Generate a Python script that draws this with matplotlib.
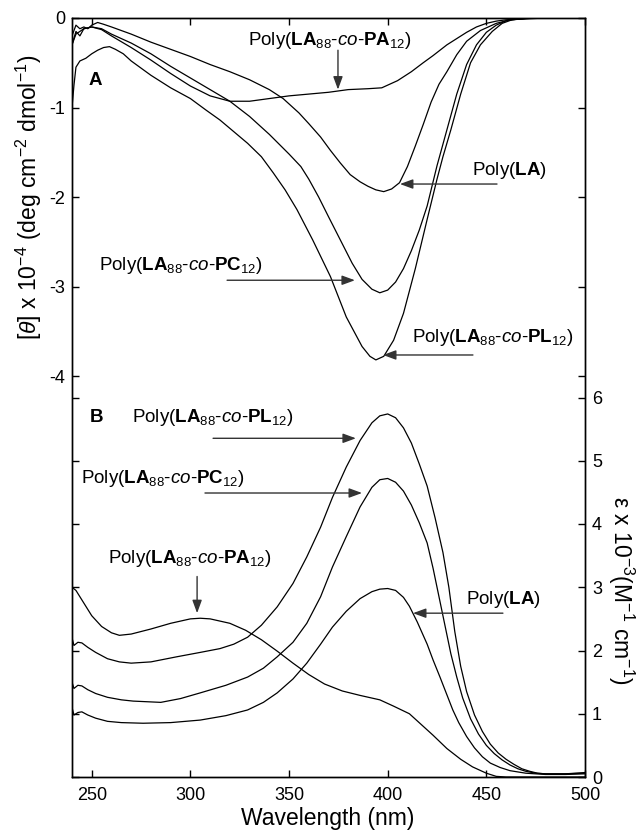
import matplotlib
matplotlib.use("Agg")
import matplotlib.pyplot as plt

plt.rcParams['font.family'] = ['Liberation Sans', 'DejaVu Sans']
plt.rcParams['mathtext.fontset'] = 'custom'
plt.rcParams['mathtext.rm'] = 'Liberation Sans'
plt.rcParams['mathtext.it'] = 'Liberation Sans:italic'
plt.rcParams['mathtext.bf'] = 'Liberation Sans:bold'

# ---------------- Panel A: CD spectra ----------------
cd_la_wl = [240, 242, 244, 246, 248, 250, 253, 256, 260, 270, 280, 290, 300, 310, 320, 330, 340, 347, 355, 360,
            366, 371, 376, 381, 386, 390, 394, 398, 402, 406, 410, 414, 418, 422, 426, 430, 435, 440, 447, 455,
            462, 470, 480, 490, 500]
cd_la = [-0.2, -0.08, -0.12, -0.1, -0.12, -0.08, -0.05, -0.07, -0.1, -0.18, -0.27, -0.35, -0.43, -0.52, -0.6,
         -0.69, -0.8, -0.9, -1.06, -1.18, -1.33, -1.48, -1.62, -1.75, -1.83, -1.88, -1.92, -1.94, -1.91, -1.84,
         -1.66, -1.43, -1.19, -0.94, -0.74, -0.6, -0.41, -0.26, -0.14, -0.06, -0.02, -0.01, 0.0, 0.0, 0.0]

cd_pc_wl = [240, 242, 244, 246, 250, 255, 260, 270, 280, 290, 300, 310, 320, 330, 340, 350, 356, 360, 365, 370,
            376, 382, 387, 392, 396, 400, 404, 408, 412, 416, 420, 425, 430, 435, 440, 445, 450, 455, 460, 465,
            470, 480, 490, 500]
cd_pc = [-0.3, -0.18, -0.15, -0.12, -0.1, -0.12, -0.18, -0.28, -0.4, -0.54, -0.67, -0.8, -0.93, -1.1, -1.3,
         -1.52, -1.66, -1.8, -2.0, -2.22, -2.48, -2.74, -2.92, -3.03, -3.07, -3.04, -2.95, -2.8, -2.6, -2.37,
         -2.1, -1.65, -1.25, -0.85, -0.52, -0.3, -0.16, -0.08, -0.03, -0.015, -0.005, 0.0, 0.0, 0.0]

cd_pl_wl = [240, 241, 242, 244, 247, 250, 253, 256, 259, 262, 266, 270, 280, 290, 300, 308, 315, 322, 329, 336,
            342, 348, 354, 362, 371, 379, 387, 391, 394, 398, 403, 408, 414, 420, 425, 428, 432, 437, 442, 447,
            453, 458, 463, 470, 480, 490, 500]
cd_pl = [-1.0, -0.75, -0.55, -0.48, -0.45, -0.4, -0.36, -0.33, -0.32, -0.35, -0.4, -0.48, -0.64, -0.78, -0.9,
         -1.03, -1.14, -1.27, -1.4, -1.55, -1.73, -1.92, -2.14, -2.48, -2.89, -3.34, -3.67, -3.78, -3.82, -3.78,
         -3.6, -3.3, -2.8, -2.25, -1.8, -1.55, -1.25, -0.85, -0.5, -0.3, -0.15, -0.06, -0.02, -0.005, 0.0, 0.0, 0.0]

cd_pa_wl = [240, 242, 244, 246, 250, 255, 260, 270, 280, 290, 300, 310, 320, 330, 340, 350, 360, 370, 380, 390,
            397, 405, 412, 418, 423, 430, 435, 440, 445, 450, 455, 460, 470, 480, 490, 500]
cd_pa = [-0.3, -0.15, -0.2, -0.12, -0.1, -0.13, -0.2, -0.33, -0.47, -0.62, -0.76, -0.87, -0.93, -0.93, -0.9,
         -0.87, -0.85, -0.83, -0.8, -0.79, -0.78, -0.7, -0.6, -0.5, -0.42, -0.3, -0.23, -0.16, -0.1, -0.06,
         -0.035, -0.02, -0.005, 0.0, 0.0, 0.0]

# ---------------- Panel B: UV-vis spectra ----------------
uv_pl_wl = [240, 241, 243, 245, 248, 252, 258, 264, 270, 280, 293, 305, 315, 322, 329, 336, 344, 352, 359, 366,
            372, 379, 386, 392, 396, 400, 404, 408, 412, 416, 420, 424, 428, 431, 434, 437, 440, 444, 448, 452,
            456, 460, 464, 468, 472, 476, 480, 490, 500]
uv_pl = [2.2, 2.08, 2.13, 2.12, 2.05, 1.97, 1.87, 1.82, 1.8, 1.82, 1.9, 1.97, 2.03, 2.1, 2.21, 2.4, 2.69, 3.06,
         3.48, 3.95, 4.42, 4.9, 5.32, 5.6, 5.71, 5.74, 5.68, 5.52, 5.28, 4.95, 4.6, 4.1, 3.55, 3.0, 2.3, 1.75,
         1.35, 0.98, 0.72, 0.52, 0.38, 0.28, 0.2, 0.13, 0.09, 0.06, 0.05, 0.05, 0.07]

uv_pc_wl = [240, 241, 243, 245, 248, 252, 258, 265, 271, 285, 295, 305, 318, 329, 337, 344, 352, 359, 366, 372,
            379, 386, 392, 396, 400, 404, 408, 412, 416, 420, 423, 426, 429, 432, 435, 438, 442, 446, 450, 454,
            458, 462, 466, 470, 475, 480, 490, 500]
uv_pc = [1.5, 1.4, 1.45, 1.44, 1.38, 1.32, 1.26, 1.22, 1.2, 1.18, 1.24, 1.33, 1.45, 1.58, 1.72, 1.9, 2.13, 2.43,
         2.85, 3.32, 3.8, 4.27, 4.58, 4.7, 4.72, 4.66, 4.52, 4.3, 4.02, 3.7, 3.3, 2.85, 2.4, 1.95, 1.58, 1.25,
         0.92, 0.68, 0.5, 0.37, 0.27, 0.19, 0.13, 0.09, 0.06, 0.05, 0.05, 0.06]

uv_la_wl = [240, 241, 243, 245, 248, 252, 258, 265, 276, 290, 305, 318, 329, 337, 344, 352, 359, 366, 372, 379,
            386, 392, 396, 400, 404, 408, 411, 415, 420, 423, 426.5, 430, 433, 436, 440, 444, 448, 452, 457, 462,
            470, 480, 490, 500]
uv_la = [1.1, 0.98, 1.02, 1.03, 0.98, 0.93, 0.88, 0.86, 0.85, 0.86, 0.9, 0.97, 1.06, 1.18, 1.33, 1.55, 1.8, 2.1,
         2.37, 2.62, 2.82, 2.93, 2.97, 2.98, 2.95, 2.84, 2.7, 2.45, 2.1, 1.85, 1.58, 1.3, 1.06, 0.86, 0.64, 0.46,
         0.32, 0.22, 0.15, 0.1, 0.06, 0.04, 0.04, 0.05]

uv_pa_wl = [240, 242, 245, 250, 255, 260, 264, 270, 280, 290, 300, 305, 310, 320, 328, 336, 344, 352, 360, 368,
            377, 386, 396, 403, 411, 417, 423, 430, 437, 443, 450, 455, 460, 470, 480, 490, 500]
uv_pa = [3.0, 2.95, 2.8, 2.55, 2.38, 2.28, 2.24, 2.26, 2.34, 2.43, 2.5, 2.51, 2.5, 2.43, 2.32, 2.17, 1.99, 1.8,
         1.62, 1.47, 1.36, 1.29, 1.22, 1.12, 1.0, 0.83, 0.66, 0.45, 0.28, 0.16, 0.06, 0.01, 0.0, 0.0, 0.0, 0.0, 0.0]

xticks = [250, 300, 350, 400, 450, 500]
cd_ticks = [-4, -3, -2, -1, 0]
uv_ticks = [0, 1, 2, 3, 4, 5, 6]

def lab(b):
    return r'Poly($\mathbf{LA}_{88}$-$\mathit{co}$-$\mathbf{' + b + r'}_{12}$)'

lw = 0.9
fig = plt.figure(figsize=(6.38, 8.36), dpi=100)
ax = fig.add_axes([72 / 638, 59 / 836, 513 / 638, 759 / 836])
ax2 = ax.twinx()

for wl, v in [(cd_la_wl, cd_la), (cd_pc_wl, cd_pc), (cd_pl_wl, cd_pl), (cd_pa_wl, cd_pa)]:
    ax.plot(wl, v, color='black', lw=lw)
for wl, v in [(uv_pl_wl, uv_pl), (uv_pc_wl, uv_pc), (uv_la_wl, uv_la), (uv_pa_wl, uv_pa)]:
    ax2.plot(wl, v, color='black', lw=lw)

ax.set_xlim(240, 500)
ax.set_ylim(-8.48, 0)
ax2.set_ylim(0, 12)
ax.set_xticks(xticks)
ax.set_yticks(cd_ticks)
ax.set_yticklabels([str(t) for t in cd_ticks])
ax2.set_yticks(uv_ticks)
ax.tick_params(axis='both', direction='in', length=5, width=1, labelsize=13, top=True, right=True,
               labelright=False, labeltop=False, pad=5)
ax.tick_params(axis='x', pad=7)
ax2.tick_params(axis='y', direction='in', length=5, width=1, labelsize=13, left=True, right=True,
                labelleft=False, labelright=True, pad=5)
for a in (ax, ax2):
    for s in a.spines.values():
        s.set_linewidth(1.0)

fs = 13.5
arrow = dict(arrowstyle='-|>,head_length=0.6,head_width=0.22', color='#333333', lw=1,
             shrinkA=0, shrinkB=0, mutation_scale=13)

# Panel A annotations
ax.text(251.7, -0.70, 'A', fontsize=fs, fontweight='bold', ha='center', va='center')
ax.text(370.8, -0.25, lab('PA'), fontsize=fs, ha='center', va='center')
ax.annotate('', xy=(374.8, -0.80), xytext=(374.8, -0.36), arrowprops=arrow)
ax.text(461.5, -1.70, r'Poly($\mathbf{LA}$)', fontsize=fs, ha='center', va='center')
ax.annotate('', xy=(406.2, -1.855), xytext=(455.4, -1.855), arrowprops=arrow)
ax.text(295.2, -2.76, lab('PC'), fontsize=fs, ha='center', va='center')
ax.annotate('', xy=(383.4, -2.93), xytext=(318.6, -2.93), arrowprops=arrow)
ax.text(453.4, -3.575, lab('PL'), fontsize=fs, ha='center', va='center')
ax.annotate('', xy=(397.6, -3.765), xytext=(443.2, -3.765), arrowprops=arrow)

# Panel B annotations
ax2.text(252.2, 5.69, 'B', fontsize=fs, fontweight='bold', ha='center', va='center')
ax2.text(311.2, 5.69, lab('PL'), fontsize=fs, ha='center', va='center')
ax2.annotate('', xy=(383.9, 5.355), xytext=(311.5, 5.355), arrowprops=arrow)
ax2.text(286.1, 4.72, lab('PC'), fontsize=fs, ha='center', va='center')
ax2.annotate('', xy=(387.0, 4.49), xytext=(307.4, 4.49), arrowprops=arrow)
ax2.text(299.6, 3.46, lab('PA'), fontsize=fs, ha='center', va='center')
ax2.annotate('', xy=(303.4, 2.59), xytext=(303.4, 3.17), arrowprops=arrow)
ax2.text(458.4, 2.80, r'Poly($\mathbf{LA}$)', fontsize=fs, ha='center', va='center')
ax2.annotate('', xy=(412.8, 2.59), xytext=(458.4, 2.59), arrowprops=arrow)

# Axis labels
fig.text(29 / 638, 1 - 197 / 836, r'[$\theta$] x 10$^{-4}$ (deg cm$^{-2}$ dmol$^{-1}$)', fontsize=16.5,
         rotation=90, ha='center', va='center')
fig.text(621 / 638, 1 - 590 / 836, r'ε x 10$^{-3}$(M$^{-1}$ cm$^{-1}$)', fontsize=16.5,
         rotation=270, ha='center', va='center')
fig.text(328 / 638, 1 - 819 / 836, 'Wavelength (nm)', fontsize=16.5, ha='center', va='center')

fig.savefig('out.png', dpi=100)
